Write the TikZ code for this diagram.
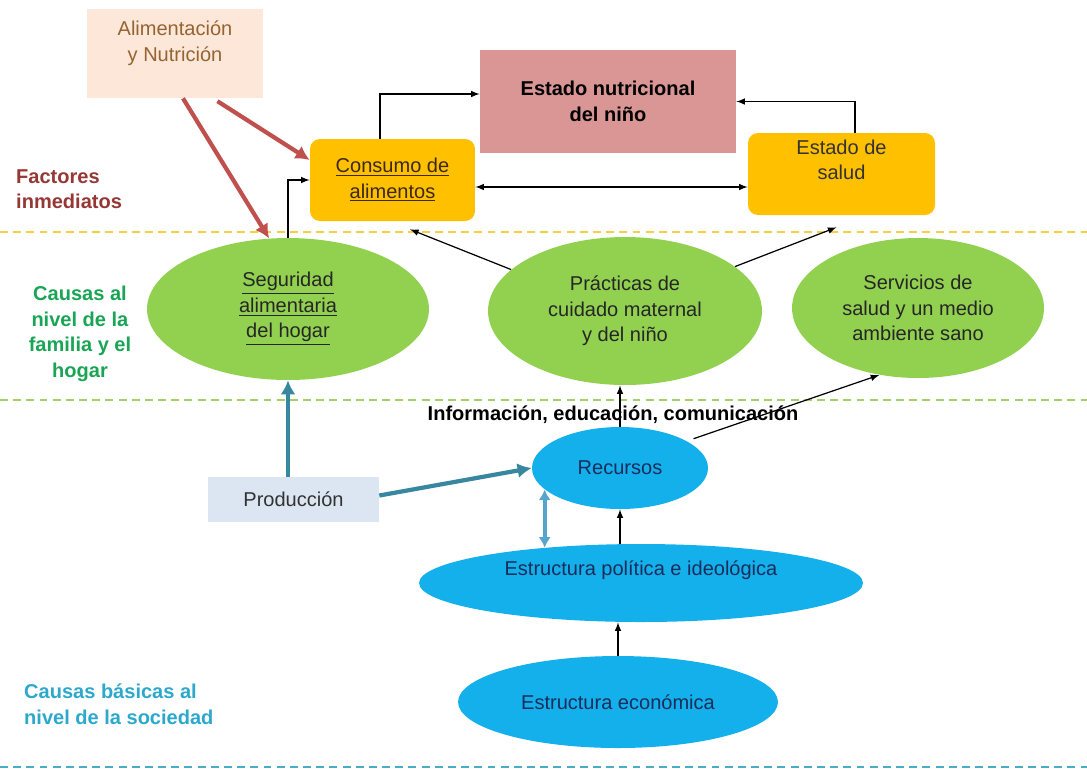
\documentclass[tikz,border=0pt]{standalone}
\usepackage{fontspec}
\setmainfont{Liberation Sans}
\usetikzlibrary{shapes.geometric,arrows.meta}

\definecolor{durazno}{RGB}{252,231,216}
\definecolor{marron}{RGB}{150,100,50}
\definecolor{rosa}{RGB}{217,150,148}
\definecolor{naranja}{RGB}{255,192,0}
\definecolor{verde}{RGB}{146,208,80}
\definecolor{azul}{RGB}{20,176,236}
\definecolor{grisazul}{RGB}{220,230,242}
\definecolor{rojo}{RGB}{192,80,77}
\definecolor{petroleo}{RGB}{55,135,160}
\definecolor{celeste}{RGB}{85,165,205}
\definecolor{vino}{RGB}{149,55,53}
\definecolor{verdeosc}{RGB}{25,165,85}
\definecolor{turquesa}{RGB}{45,168,205}
\definecolor{amarillo}{RGB}{245,208,70}
\definecolor{verdeclaro}{RGB}{160,210,100}
\definecolor{lineaazul}{RGB}{75,172,198}
\definecolor{textazul}{RGB}{25,45,90}

\tikzset{
  nivel/.style={line width=1.2pt, dash pattern=on 4.5pt off 3pt},
  caja/.style={rectangle, rounded corners=0.2cm, fill=naranja, inner sep=0pt,
    minimum height=1.64cm, align=center, text={rgb,255:red,60;green,40;blue,20}},
  ovalverde/.style={ellipse, fill=verde, inner sep=0pt, align=center, text={rgb,255:red,38;green,38;blue,38}},
  ovalazul/.style={ellipse, fill=azul, inner sep=0pt, align=center, text=textazul},
  flecha/.style={->, >=latex, line width=0.7pt},
  flecharoja/.style={-{Latex[length=8pt,width=8.5pt]}, line width=2.4pt, rojo},
  flechaazul/.style={-{Latex[length=8pt,width=8.5pt]}, line width=2.4pt, petroleo}
}

\begin{document}
\begin{tikzpicture}[x=0.02cm, y=-0.02cm, font=\fontsize{11.4}{14.5}\selectfont]
    \useasboundingbox (0,0) rectangle (1087,779);
    % lineas de los niveles
    \draw[nivel, amarillo] (0,232) -- (1087,232);
    \draw[nivel, verdeclaro] (0,400) -- (1087,400);
    \draw[nivel, lineaazul] (0,767) -- (1087,767);

    % factores inmediatos
    \node[fill=durazno, text=marron, inner sep=0pt, minimum width=3.52cm, minimum height=1.78cm] (alim) at (175,53.5)
        {\parbox[c][1.78cm][t]{3.4cm}{\centering\vspace{0.24cm}Alimentación\\y Nutrición}};
    \node[fill=rosa, minimum width=5.12cm, minimum height=2.06cm, align=center] (estado) at (608,101.5)
        {\textbf{Estado nutricional}\\\textbf{del niño}};
    \node[caja, minimum width=3.3cm] (consumo) at (392.5,180) {\underline{Consumo de}\\\underline{alimentos}};
    \node[caja, minimum width=3.74cm, text={rgb,255:red,50;green,50;blue,50}] (salud) at (841.5,174)
        {\parbox[c][1.64cm][t]{3.6cm}{\centering\vspace{0.13cm}Estado de\\salud}};

    % familia y hogar
    \node[ovalverde, minimum width=5.64cm, minimum height=2.84cm] (seg) at (288,309)
        {\underline{Seguridad}\\\underline{alimentaria}\\\underline{del hogar}};
    \node[ovalverde, minimum width=5.48cm, minimum height=2.96cm] (prac) at (625,311)
        {Prácticas de\\cuidado maternal\\y del niño};
    \node[ovalverde, minimum width=5.04cm, minimum height=2.8cm] (serv) at (918,308)
        {Servicios de\\salud y un medio\\ambiente sano};

    % sociedad
    \node[ovalazul, minimum width=3.52cm, minimum height=1.64cm] (rec) at (620,468) {Recursos};
    \node[ovalazul, minimum width=8.88cm, minimum height=1.56cm, text depth=0.6cm] (pol) at (641,583)
        {Estructura política e ideológica};
    \node[ovalazul, minimum width=6.4cm, minimum height=1.84cm] (eco) at (618,702) {Estructura económica};
    \node[fill=grisazul, minimum width=3.42cm, minimum height=0.9cm, text={rgb,255:red,50;green,50;blue,50}] (prod) at (293.5,499.5)
        {Producción};

    % rotulos
    \node[anchor=west, align=left, text=vino] (fact) at (10,189) {\textbf{Factores}\\\textbf{inmediatos}};
    \node[align=center, text=verdeosc] (fam) at (80,334)
        {\textbf{Causas al}\\\textbf{nivel de la}\\\textbf{familia y el}\\\textbf{hogar}};
    \node[anchor=west, align=left, text=turquesa] (soc) at (18,704)
        {\textbf{Causas básicas al}\\\textbf{nivel de la sociedad}};
    \node (info) at (613,415) {\textbf{Información, educación, comunicación}};

    % flechas
    \coordinate (cs) at ([yshift=-0.14cm]consumo.east);
    \draw[flecha] ([xshift=-0.25cm]consumo.north) |- ([yshift=0.15cm]estado.west);
    \draw[flecha] ([xshift=0.27cm]salud.north) |- (estado.east);
    \draw[flecha, <->] (cs) -- (cs -| salud.west);
    \draw[flecha] (seg.north) |- (consumo.west);
    \draw[flecha] (prac.160) -- ([xshift=0.35cm, yshift=-0.16cm]consumo.south);
    \draw[flecha] (prac.22) -- ([xshift=-0.1cm, yshift=-0.24cm]salud.south);
    \draw[flecha] (rec.north) -- (rec.north |- prac.south);
    \draw[flecha, shorten <=4pt] (rec.22) -- (serv.240);
    \draw[flecha] (rec.south |- pol.north) -- (rec.south);
    \draw[flecha] (eco.north) -- (eco.north |- pol.south);

    \draw[flecharoja] ([xshift=0.16cm]alim.south) -- (seg.105);
    \draw[flecharoja, shorten <=3pt] ([xshift=0.76cm]alim.south) -- ([yshift=0.4cm]consumo.west);
    \draw[flechaazul] (seg.south |- prod.north) -- (seg.south);
    \draw[flechaazul] ([yshift=0.08cm]prod.east) -- (rec.west);
    \draw[{Latex[length=6pt,width=7pt]}-{Latex[length=6pt,width=7pt]}, line width=2.4pt, celeste] (rec.196) -- (rec.196 |- pol.160);
\end{tikzpicture}
\end{document}
